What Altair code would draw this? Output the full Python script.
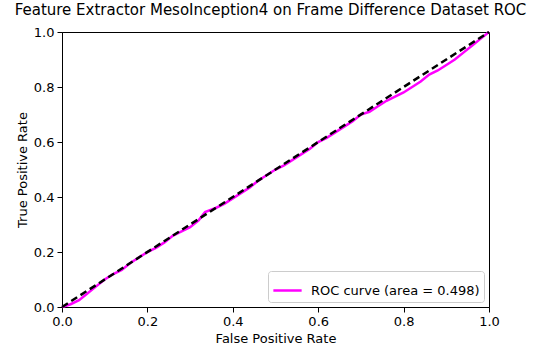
import altair as alt
import pandas as pd

fpr = [0.0, 0.02, 0.04, 0.06, 0.08, 0.10, 0.12, 0.14, 0.16, 0.18, 0.20, 0.22, 0.24, 0.26,
       0.28, 0.30, 0.32, 0.335, 0.36, 0.38, 0.40, 0.42, 0.44, 0.46, 0.48, 0.50, 0.52, 0.54,
       0.56, 0.58, 0.60, 0.62, 0.64, 0.66, 0.68, 0.70, 0.72, 0.74, 0.76, 0.78, 0.80, 0.82,
       0.84, 0.86, 0.88, 0.90, 0.92, 0.94, 0.96, 0.98, 1.0]
tpr = [0.0, 0.01, 0.025, 0.05, 0.075, 0.10, 0.12, 0.135, 0.16, 0.18, 0.20, 0.215, 0.235, 0.26,
       0.275, 0.29, 0.315, 0.345, 0.36, 0.375, 0.395, 0.415, 0.435, 0.46, 0.48, 0.50, 0.515, 0.535,
       0.555, 0.575, 0.60, 0.615, 0.635, 0.655, 0.675, 0.70, 0.71, 0.73, 0.75, 0.765, 0.78, 0.80,
       0.82, 0.845, 0.86, 0.88, 0.90, 0.925, 0.95, 0.975, 1.0]
diag_x = [0.0, 1.0]
diag_y = [0.0, 1.0]
series_label = "ROC curve (area = 0.498)"
ticks = [0.0, 0.2, 0.4, 0.6, 0.8, 1.0]

roc = pd.DataFrame({"fpr": fpr, "tpr": tpr, "series": series_label})
diag = pd.DataFrame({"fpr": diag_x, "tpr": diag_y})

FONT = "DejaVu Sans"

xenc = alt.X("fpr:Q", scale=alt.Scale(domain=[0, 1], nice=False, zero=False),
             axis=alt.Axis(title="False Positive Rate", values=ticks, format=".1f"))
yenc = alt.Y("tpr:Q", scale=alt.Scale(domain=[0, 1], nice=False, zero=False),
             axis=alt.Axis(title="True Positive Rate", values=ticks, format=".1f"))

roc_line = alt.Chart(roc).mark_line(strokeWidth=2.5).encode(
    x=xenc, y=yenc,
    color=alt.Color("series:N", scale=alt.Scale(range=["#ff00ff"]),
                    legend=alt.Legend(title=None, orient="bottom-right", offset=5,
                                      symbolType="stroke", symbolSize=800,
                                      symbolStrokeWidth=2.5, labelFontSize=13,
                                      labelFont=FONT, labelColor="black",
                                      strokeColor="#cccccc",
                                      fillColor="white", padding=4, cornerRadius=3,
                                      labelOffset=8, labelLimit=300))
)

diag_line = alt.Chart(diag).mark_line(color="black", strokeWidth=2.5, strokeDash=[7, 4]).encode(
    x=alt.X("fpr:Q"), y=alt.Y("tpr:Q")
)

chart = alt.layer(roc_line, diag_line).properties(
    width=427, height=275,
    title=alt.TitleParams("Feature Extractor MesoInception4 on Frame Difference Dataset ROC",
                          font=FONT, fontSize=15, fontWeight="normal", anchor="middle",
                          dx=-5, offset=8, color="black"),
    autosize=alt.AutoSizeParams(type="none"),
    padding={"left": 62, "top": 32, "right": 54, "bottom": 43},
).configure_view(stroke="black", strokeWidth=1).configure_axis(
    grid=False, domainColor="black", tickColor="black", tickSize=5,
    labelFont=FONT, labelFontSize=13, labelColor="black", labelFlush=False,
    titleFont=FONT, titleFontSize=13, titleFontWeight="normal", titleColor="black",
    labelPadding=3, titlePadding=4,
)

chart.save("out.html", embed_options={"renderer": "svg", "actions": False})
